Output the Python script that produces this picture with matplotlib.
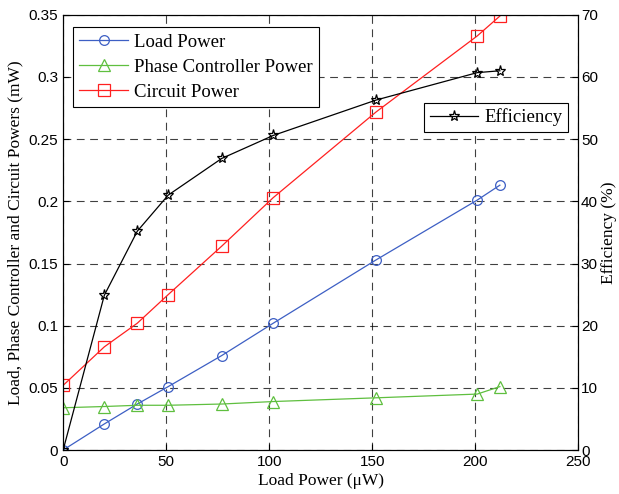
import matplotlib.pyplot as plt
import numpy as np

# load power (uW) on x axis
load_uw = [0, 20, 36, 51, 77, 102, 152, 201, 212]
load_mw = [0, 0.021, 0.037, 0.051, 0.076, 0.102, 0.153, 0.201, 0.213]
phase_mw = [0.034, 0.035, 0.036, 0.036, 0.037, 0.039, 0.042, 0.045, 0.051]
circuit_mw = [0.052, 0.083, 0.102, 0.125, 0.164, 0.203, 0.272, 0.333, 0.349]
efficiency = [0, 24.9, 35.2, 41.0, 46.9, 50.6, 56.3, 60.7, 61.0]

serif = ['Liberation Serif', 'DejaVu Serif']
sans = ['Liberation Sans', 'DejaVu Sans']
plt.rcParams['font.family'] = sans

fig = plt.figure(figsize=(6.19, 4.94), dpi=100)
ax = fig.add_axes([0.102, 0.089, 0.832, 0.881])

ax.plot(load_uw, load_mw, color='#3d5fc4', lw=0.9, marker='o', ms=7, mfc='none', mew=0.9, label='Load Power')
ax.plot(load_uw, phase_mw, color='#5fbf3f', lw=0.9, marker='^', ms=8, mfc='none', mew=0.9, label='Phase Controller Power')
ax.plot(load_uw, circuit_mw, color='#ff2020', lw=0.9, marker='s', ms=8, mfc='none', mew=0.9, label='Circuit Power')

ax.set_xlim(0, 250)
ax.set_ylim(0, 0.35)
ax.set_xticks(np.arange(0, 251, 50))
ax.set_yticks(np.arange(0, 0.351, 0.05))
ax.set_yticklabels(['0', '0.05', '0.1', '0.15', '0.2', '0.25', '0.3', '0.35'])
ax.grid(True, color='black', linestyle=(0, (7, 5)), lw=0.8, alpha=0.75)
ax.tick_params(direction='in', labelsize=11, length=4)
ax.set_xlabel('Load Power (\u03bcW)', family=serif, fontsize=12.5, labelpad=3)
ax.set_ylabel('Load, Phase Controller and Circuit Powers (mW)', family=serif, fontsize=12.5)

ax2 = ax.twinx()
ax2.plot(load_uw, efficiency, color='black', lw=0.9, marker='*', ms=8, mfc='none', mew=0.9, label='Efficiency')
ax2.set_ylim(0, 70)
ax2.set_yticks(np.arange(0, 71, 10))
ax2.tick_params(direction='in', labelsize=11, length=4, pad=2)
ax2.set_ylabel('Efficiency (%)', family=serif, fontsize=12.5, labelpad=2)

leg1 = ax.legend(loc='upper left', bbox_to_anchor=(0.019, 0.972), prop={'family': serif, 'size': 13.5},
                 fancybox=False, edgecolor='black', framealpha=1, handlelength=2.6,
                 borderpad=0.35, labelspacing=0.42, handletextpad=0.3, borderaxespad=0)
leg1.get_frame().set_linewidth(0.8)
leg2 = ax2.legend(loc='upper right', bbox_to_anchor=(0.98, 0.798), prop={'family': serif, 'size': 13.5},
                  fancybox=False, edgecolor='black', framealpha=1, handlelength=2.6,
                  borderpad=0.3, handletextpad=0.3, borderaxespad=0)
leg2.get_frame().set_linewidth(0.8)

fig.savefig('out.png', dpi=100)
plt.close()
